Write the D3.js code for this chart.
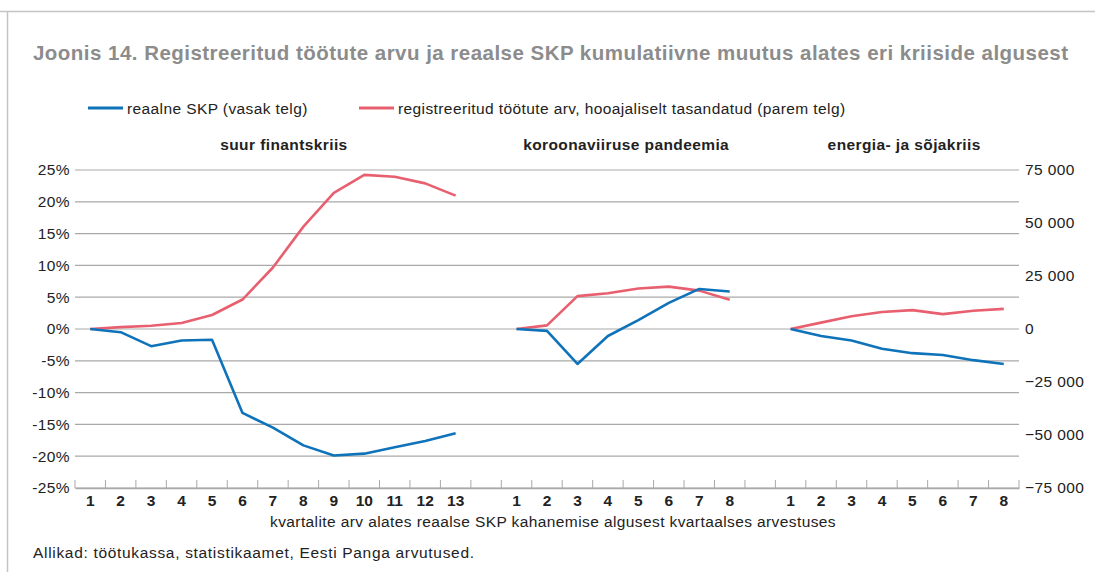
<!DOCTYPE html>
<html><head><meta charset="utf-8">
<script src="https://cdn.jsdelivr.net/npm/d3@7"></script>
<style>
body{margin:0;background:#fff;}
svg{display:block;font-family:"Liberation Sans",Arial,Helvetica,sans-serif;}
</style></head>
<body><svg id="c" width="1095" height="572"></svg>
<script>
// ---- data ----
const panels = ["suur finantskriis", "koroonaviiruse pandeemia", "energia- ja sõjakriis"];
const quartersFin = [1,2,3,4,5,6,7,8,9,10,11,12,13];
const quartersCov = [1,2,3,4,5,6,7,8];
const quartersEn  = [1,2,3,4,5,6,7,8];
const gdpFin   = [0, -0.5, -2.7, -1.8, -1.7, -13.2, -15.5, -18.3, -19.9, -19.6, -18.6, -17.6, -16.4];
const unempFin = [0, 900, 1500, 2800, 6600, 13900, 29000, 48300, 64200, 72700, 71800, 68700, 62900];
const gdpCov   = [0, -0.3, -5.5, -1.1, 1.4, 4.1, 6.3, 5.9];
const unempCov = [0, 1700, 15500, 16900, 19100, 20000, 18100, 13800];
const gdpEn    = [0, -1.1, -1.8, -3.1, -3.8, -4.1, -4.9, -5.5];
const unempEn  = [0, 3000, 6000, 8000, 8900, 7000, 8600, 9500];
const leftTicks  = [-25,-20,-15,-10,-5,0,5,10,15,20,25];
const rightTicks = [-75000,-50000,-25000,0,25000,50000,75000];
const seriesNames = ["reaalne SKP (vasak telg)", "registreeritud töötute arv, hooajaliselt tasandatud (parem telg)"];
const title = "Joonis 14. Registreeritud töötute arvu ja reaalse SKP kumulatiivne muutus alates eri kriiside algusest";
const xTitle = "kvartalite arv alates reaalse SKP kahanemise algusest kvartaalses arvestuses";
const source = "Allikad: töötukassa, statistikaamet, Eesti Panga arvutused.";

// ---- build categories ----
const groups = [
  {key:"a", q:quartersFin, gdp:gdpFin, un:unempFin},
  {key:"b", q:quartersCov, gdp:gdpCov, un:unempCov},
  {key:"c", q:quartersEn,  gdp:gdpEn,  un:unempEn}
];
const cats = [];
groups.forEach((g,i)=>{
  g.q.forEach(q=>cats.push(g.key+q));
  if(i<groups.length-1) cats.push("gap"+i);
});

const BLUE="#0f73ba", RED="#e8606f", GRID="#a9a9a9", TXT="#222";
const FS=15.5, LS=0.4;
const svg=d3.select("#c");
const x=d3.scaleBand().domain(cats).range([75,1019]).padding(0);
const yL=d3.scaleLinear().domain([-25,25]).range([488,170]);
const yR=d3.scaleLinear().domain([-75000,75000]).range([488,170]);

// frame
svg.append("line").attr("x1",0).attr("x2",1095).attr("y1",11.5).attr("y2",11.5).attr("stroke","#c4c4c4").attr("stroke-width",1.5);
svg.append("line").attr("x1",7.5).attr("x2",7.5).attr("y1",11).attr("y2",572).attr("stroke","#c4c4c4").attr("stroke-width",1.5);

// title
svg.append("text").attr("x",33).attr("y",60).attr("font-size",20.5).attr("font-weight","bold").attr("fill","#8c8c8c")
  .attr("textLength",1035).attr("lengthAdjust","spacing").text(title);

// legend
const leg=[{x:88,c:BLUE,t:seriesNames[0]},{x:359,c:RED,t:seriesNames[1]}];
leg.forEach(l=>{
  svg.append("line").attr("x1",l.x).attr("x2",l.x+35).attr("y1",108).attr("y2",108).attr("stroke",l.c).attr("stroke-width",3);
  svg.append("text").attr("x",l.x+39).attr("y",113.5).attr("font-size",FS).attr("letter-spacing",LS).attr("fill",TXT).text(l.t);
});

// gridlines
svg.append("g").selectAll("line").data(leftTicks).join("line")
  .attr("x1",75).attr("x2",1019).attr("y1",d=>yL(d)).attr("y2",d=>yL(d))
  .attr("stroke",GRID).attr("stroke-width",1.2);

// left axis labels
const axL=svg.append("g").attr("transform","translate(75,0)")
  .call(d3.axisLeft(yL).tickValues(leftTicks).tickSize(0).tickPadding(5).tickFormat(d=>d+"%"));
axL.select(".domain").remove();
axL.selectAll("text").attr("font-size",FS).attr("letter-spacing",LS).attr("fill",TXT).attr("font-family","Liberation Sans, Arial, sans-serif");

// right axis labels
const fmt=d=>d3.format(",")(d).replace(/,/g," ");
const axR=svg.append("g").attr("transform","translate(1019,0)")
  .call(d3.axisRight(yR).tickValues(rightTicks).tickSize(0).tickPadding(6).tickFormat(fmt));
axR.select(".domain").remove();
axR.selectAll("text").attr("font-size",FS).attr("letter-spacing",LS).attr("fill",TXT).attr("font-family","Liberation Sans, Arial, sans-serif");

// x axis
const axX=svg.append("g").attr("transform","translate(0,488)")
  .call(d3.axisBottom(x).tickSize(0).tickPadding(7).tickFormat(d=>d.startsWith("gap")?"":d.slice(1)));
axX.select(".domain").attr("stroke",GRID).attr("stroke-width",1.5);
axX.selectAll("text").attr("font-size",FS).attr("font-weight","bold").attr("fill",TXT).attr("font-family","Liberation Sans, Arial, sans-serif");
// tick marks at category boundaries
const bounds=cats.map(c=>x(c)).concat([x.range()[1]]);
svg.append("g").selectAll("line").data(bounds).join("line")
  .attr("x1",d=>d).attr("x2",d=>d).attr("y1",480).attr("y2",488)
  .attr("stroke",GRID).attr("stroke-width",1);

// panel labels
const labelShift=[11,3,7];
groups.forEach((g,i)=>{
  const a=x(g.key+g.q[0]), b=x(g.key+g.q[g.q.length-1])+x.bandwidth();
  svg.append("text").attr("x",(a+b)/2+labelShift[i]).attr("y",150).attr("text-anchor","middle")
    .attr("font-size",FS).attr("letter-spacing",LS).attr("font-weight","bold").attr("fill",TXT).text(panels[i]);
});

// lines
const cx=(g,i)=>x(g.key+g.q[i])+x.bandwidth()/2;
groups.forEach(g=>{
  const lineR=d3.line().x((d,i)=>cx(g,i)).y(d=>yR(d));
  const lineL=d3.line().x((d,i)=>cx(g,i)).y(d=>yL(d));
  svg.append("path").attr("d",lineR(g.un)).attr("fill","none").attr("stroke",RED).attr("stroke-width",2.6).attr("stroke-linejoin","round");
  svg.append("path").attr("d",lineL(g.gdp)).attr("fill","none").attr("stroke",BLUE).attr("stroke-width",2.6).attr("stroke-linejoin","round");
});

// x title & source
svg.append("text").attr("x",553).attr("y",527).attr("text-anchor","middle").attr("font-size",FS).attr("letter-spacing",LS).attr("fill",TXT).text(xTitle);
svg.append("text").attr("x",33).attr("y",558).attr("font-size",FS).attr("fill",TXT)
  .attr("textLength",441).attr("lengthAdjust","spacing").text(source);
</script></body></html>
